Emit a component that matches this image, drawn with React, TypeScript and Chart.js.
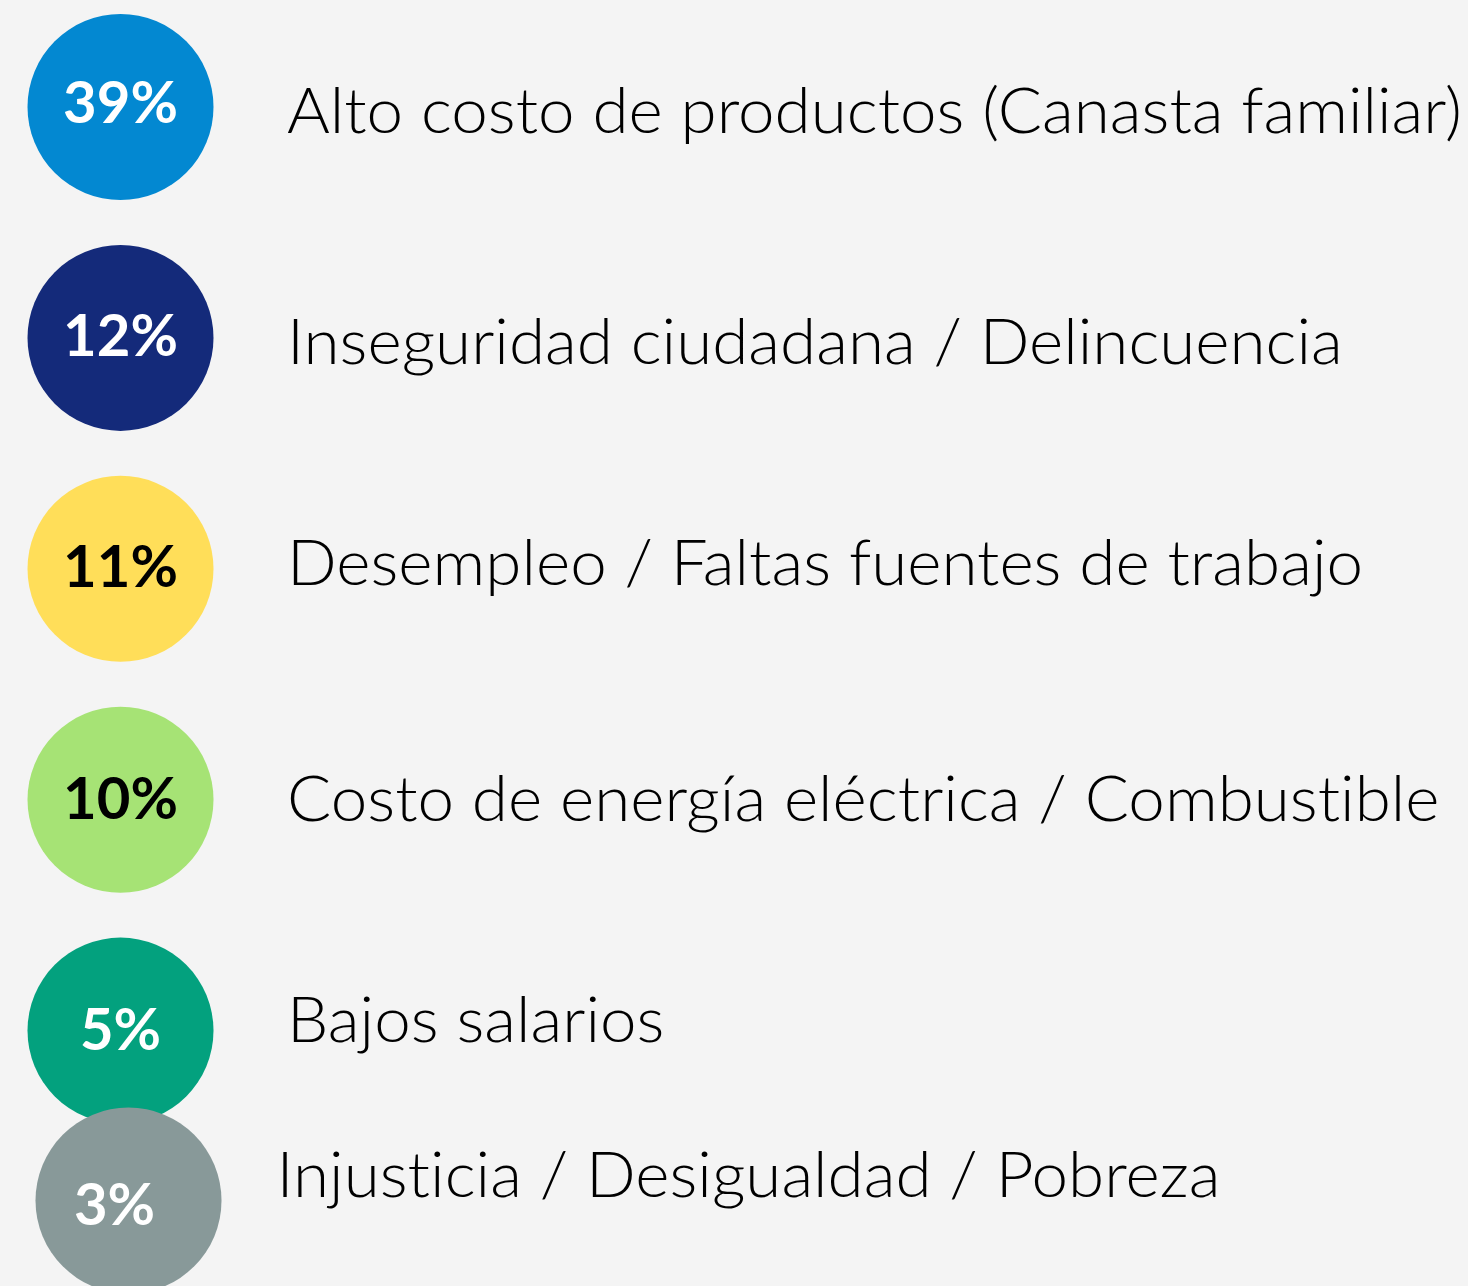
import React, { useEffect, useRef } from "react";
import { Chart, registerables } from "chart.js";

Chart.register(...registerables);

// ---- data ----
const categories: string[] = [
  "Alto costo de productos (Canasta familiar)",
  "Inseguridad ciudadana / Delincuencia",
  "Desempleo / Faltas fuentes de trabajo",
  "Costo de energía eléctrica / Combustible",
  "Bajos salarios",
  "Injusticia / Desigualdad / Pobreza",
];
const percentages: number[] = [39, 12, 11, 10, 5, 3];

// ---- styles / layout (not data) ----
const circleColors = ["#0388D1", "#142A7A", "#FFDE59", "#A6E375", "#03A17E", "#889999"];
const percentTextColors = ["#FFFFFF", "#FFFFFF", "#000000", "#000000", "#FFFFFF", "#FFFFFF"];
const rowShiftY = [0, 0, 0, 0, 0, -0.264];
const rowShiftX = [0, 0, 0, 0, 0, 0.0332];
const labelDx = [166.5, 166.5, 166.5, 166.5, 166.5, 148];
const labelBaselineDy = [25.7, 26.3, 16, 21.7, 11.2, -3.8];
const pctDx = [0, 0, 0, 0, 0, -14];
const pctCenterDy = [-4.5, -3, -3, -2, -1.5, 3.5];
const LABEL_FONT_PX = 64;
const FIRST_LABEL_WIDTH = 1175;
const BG = "#F4F4F4";
const W = 1468;
const H = 1286;

const labelPlugin = {
  id: "infoLabels",
  afterDatasetsDraw(chart: any) {
    const ctx = chart.ctx as CanvasRenderingContext2D;
    const meta = chart.getDatasetMeta(0);
    ctx.save();
    ctx.font = `300 ${LABEL_FONT_PX}px Lato`;
    (ctx as any).letterSpacing = "0.01px";
    const sx = FIRST_LABEL_WIDTH / ctx.measureText(categories[0]).width;
    ctx.restore();
    meta.data.forEach((el: any, i: number) => {
      const { x, y } = el.getProps(["x", "y"], true);
      ctx.save();
      // percentage
      ctx.font = "700 58px Lato";
      ctx.fillStyle = percentTextColors[i];
      ctx.textAlign = "center";
      ctx.textBaseline = "alphabetic";
      const pct = `${percentages[i]}%`;
      const capH = 58 * 0.72;
      ctx.fillText(pct, x + pctDx[i], y + pctCenterDy[i] + capH / 2);
      ctx.restore();
      // label
      ctx.save();
      ctx.font = `300 ${LABEL_FONT_PX}px Lato`;
      (ctx as any).letterSpacing = "0.01px";
      ctx.fillStyle = "#000000";
      ctx.textAlign = "left";
      ctx.textBaseline = "alphabetic";
      ctx.translate(x + labelDx[i], y + labelBaselineDy[i]);
      ctx.scale(sx, 1);
      ctx.fillText(categories[i], 0, 0);
      ctx.restore();
    });
  },
};

export default function App() {
  const ref = useRef<HTMLCanvasElement | null>(null);
  useEffect(() => {
    document.body.style.margin = "0";
    document.body.style.background = BG;
    const canvas = ref.current!;
    const chart = new Chart(canvas, {
      type: "bubble",
      data: {
        datasets: [
          {
            data: percentages.map((p, i) => ({ x: rowShiftX[i], y: i + rowShiftY[i], r: 93, v: p })) as any,
            backgroundColor: circleColors,
            borderWidth: 0,
            hoverRadius: 0,
            clip: false,
          } as any,
        ],
      },
      options: {
        responsive: false,
        animation: false,
        events: [],
        layout: { padding: 0, autoPadding: false } as any,
        plugins: { legend: { display: false }, tooltip: { enabled: false } },
        scales: {
          x: { type: "linear", display: false, min: -0.5, max: 5.591 },
          y: { type: "linear", display: false, reverse: true, min: -0.4634, max: 5.106 },
        },
        elements: { point: { radius: 93, hoverRadius: 0 } },
      },
      plugins: [labelPlugin],
    });
    return () => chart.destroy();
  }, []);
  return (
    <div style={{ position: "absolute", left: 0, top: 0, width: W, height: H, background: BG }}>
      <canvas ref={ref} width={W} height={H} style={{ display: "block", width: W, height: H }} />
    </div>
  );
}
